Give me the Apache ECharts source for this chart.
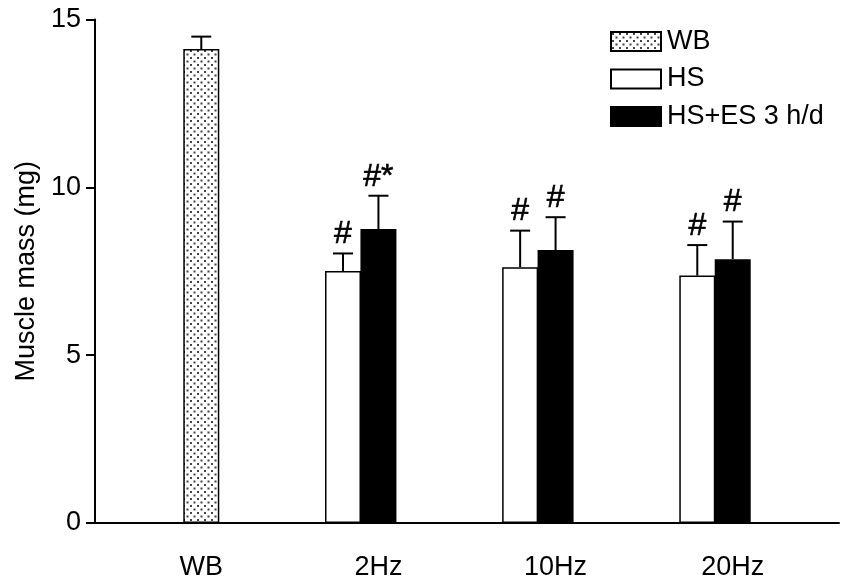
<!DOCTYPE html>
<html>
<head>
<meta charset="utf-8">
<script src="https://cdn.jsdelivr.net/npm/echarts@6/dist/echarts.min.js"></script>
<style>html,body{margin:0;padding:0;background:#fff}#c{width:842px;height:585px}</style>
</head>
<body>
<div id="c"></div>
<script>
// ---- data ----
var categories = ['WB', '2Hz', '10Hz', '20Hz'];
var seriesNames = ['WB', 'HS', 'HS+ES 3 h/d'];
var wbMean = [14.12, null, null, null];
var wbErr  = [0.37, null, null, null];
var hsMean = [0, 7.51, 7.62, 7.37];
var hsErr  = [0, 0.52, 1.09, 0.91];
var esMean = [null, 8.76, 8.13, 7.86];
var esErr  = [null, 0.99, 0.98, 1.12];
var hsMarks = ['', '#', '#', '#'];
var esMarks = ['', '#*', '#', '#'];
var yTicks = [0, 5, 10, 15];

// ---- layout: fine slot axis (each slot = half a bar width) ----
var nSlots = 43;
var groupSlot = [6, 16, 26, 36];
var slotCats = [];
for (var i = 0; i < nSlots; i++) slotCats.push('');
categories.forEach(function (c, k) { slotCats[groupSlot[k]] = c; });

function barData(means, offset, single) {
  var d = [];
  for (var i = 0; i < nSlots; i++) d.push(null);
  means.forEach(function (v, k) {
    if (v === null) return;
    var s = (k === 0 && single) ? groupSlot[k] : groupSlot[k] + offset;
    d[s] = v;
  });
  return d;
}
function errData(means, errs, marks, offset, single) {
  var d = [];
  means.forEach(function (v, k) {
    if (v === null || !errs[k]) return;
    var s = (k === 0 && single) ? groupSlot[k] : groupSlot[k] + offset;
    d.push({ value: [s, v, v + errs[k]], mark: marks ? marks[k] : '' });
  });
  return d;
}

// dotted pattern
var pc = document.createElement('canvas');
pc.width = 7; pc.height = 7;
var px = pc.getContext('2d');
px.fillStyle = '#fff'; px.fillRect(0, 0, 7, 7);
px.fillStyle = '#444';
px.fillRect(1, 1, 2, 2);
px.fillRect(4.5, 4.5, 2, 2);

var FONT = 'Arial, "Liberation Sans", sans-serif';
var FS = 27;

function makeErr(name, means, errs, marks, offset, single) {
  var data = errData(means, errs, marks, offset, single);
  return {
    name: name, type: 'custom', z: 5, silent: true,
    data: data.map(function (d) { return d.value; }),
    renderItem: function (params, api) {
      var x = api.value(0);
      var p0 = api.coord([x, api.value(1)]);
      var p1 = api.coord([x, api.value(2)]);
      var cap = 10;
      var st = { stroke: '#000', lineWidth: 2 };
      var m = data[params.dataIndex].mark;
      var ch = [
        { type: 'line', shape: { x1: p0[0], y1: p0[1], x2: p1[0], y2: p1[1] }, style: st },
        { type: 'line', shape: { x1: p1[0] - cap, y1: p1[1], x2: p1[0] + cap, y2: p1[1] }, style: st }
      ];
      if (m) {
        ch.push({ type: 'text', style: { text: m, x: p1[0], y: p1[1] - 3, align: 'center', verticalAlign: 'bottom', fontSize: 32, fontFamily: FONT, fill: '#000', stroke: '#000', lineWidth: 0.6 } });
      }
      return { type: 'group', children: ch };
    }
  };
}

var barBase = { type: 'bar', barWidth: 36, barGap: '-100%', z: 3 };

var chart = echarts.init(document.getElementById('c'), null, { renderer: 'canvas' });
chart.setOption({
  animation: false,
  backgroundColor: '#fff',
  textStyle: { fontFamily: FONT },
  grid: { left: 95, top: 19.5, width: 17.93 * (nSlots - 1), height: 503.5, containLabel: false },
  legend: {
    data: seriesNames,
    orient: 'vertical', left: 605, top: 23,
    itemWidth: 50, itemHeight: 19, itemGap: 10.5,
    icon: 'rect',
    textStyle: { fontSize: FS, color: '#000', fontFamily: FONT, padding: [0, 0, 0, 1] },
    selectedMode: false
  },
  xAxis: {
    type: 'category', data: slotCats, boundaryGap: false,
    axisLine: { lineStyle: { color: '#000', width: 2 } },
    axisTick: { show: false },
    axisLabel: { interval: 0, margin: 31, fontSize: FS, color: '#000', fontFamily: FONT }
  },
  yAxis: {
    type: 'value', min: yTicks[0], max: yTicks[yTicks.length - 1], interval: 5,
    name: 'Muscle mass (mg)', nameLocation: 'middle', nameGap: 52,
    nameTextStyle: { fontSize: FS, color: '#000', fontFamily: FONT },
    axisLine: { show: true, lineStyle: { color: '#000', width: 2 } },
    axisTick: { show: true, length: 9, lineStyle: { color: '#000', width: 2 } },
    axisLabel: { margin: 14, fontSize: FS, color: '#000', fontFamily: FONT },
    splitLine: { show: false }
  },
  series: [
    Object.assign({}, barBase, {
      name: seriesNames[0], data: barData(wbMean, 0, true),
      itemStyle: { color: { image: pc, repeat: 'repeat' }, borderColor: '#000', borderWidth: 1.5 }
    }),
    Object.assign({}, barBase, {
      name: seriesNames[1], data: barData(hsMean, -2, false),
      itemStyle: { color: '#fff', borderColor: '#000', borderWidth: 1.5 }
    }),
    Object.assign({}, barBase, {
      name: seriesNames[2], data: barData(esMean, 0, false),
      itemStyle: { color: '#000', borderColor: '#000', borderWidth: 1.5 }
    }),
    makeErr('errWB', wbMean, wbErr, null, 0, true),
    makeErr('errHS', hsMean, hsErr, hsMarks, -2, false),
    makeErr('errES', esMean, esErr, esMarks, 0, false)
  ]
});
</script>
</body>
</html>
